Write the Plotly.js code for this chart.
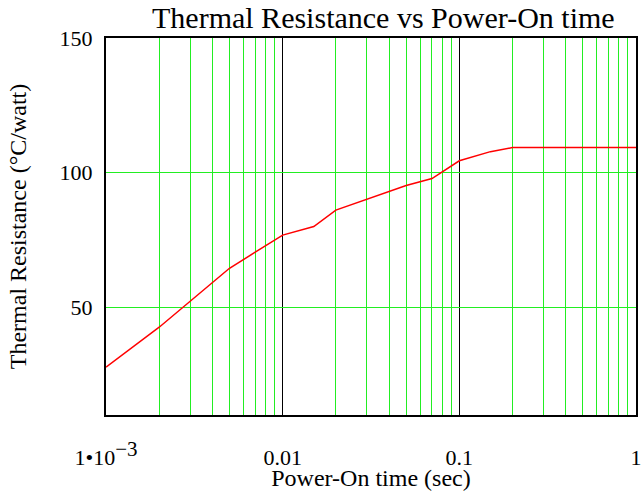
<!DOCTYPE html>
<html>
<head>
<meta charset="utf-8">
<script src="https://cdn.plot.ly/plotly-3.0.1.min.js"></script>
<style>html,body{margin:0;padding:0;background:#fff;}#chart{width:641px;height:491px;}</style>
</head>
<body>
<div id="chart"></div>
<script>
// Data
const timeSec = [0.001, 0.002, 0.005, 0.01, 0.015, 0.02, 0.05, 0.07, 0.1, 0.15, 0.2, 1];
const thermalRes = [27.8, 42.6, 64.5, 76.8, 80.0, 86.1, 95.2, 97.8, 104.4, 107.8, 109.3, 109.3];
const xTickVals = [0.001, 0.01, 0.1, 1];
const xTickText = ["1\u202210<sup><span style=\"font-size:21px\">\u22123</span></sup>", "0.01", "0.1", "1"];
const yTickVals = [50, 100, 150];

const serif = "Liberation Serif";
const green = "#22ee22";

const trace = {
  x: timeSec,
  y: thermalRes,
  type: "scatter",
  mode: "lines",
  line: {color: "#ff0000", width: 1.5},
  hoverinfo: "skip"
};

const layout = {
  width: 641,
  height: 491,
  margin: {l: 106, r: 5, t: 38, b: 76, pad: 0},
  paper_bgcolor: "#ffffff",
  plot_bgcolor: "#ffffff",
  showlegend: false,
  font: {family: serif, color: "#000000"},
  title: {
    text: "Thermal Resistance vs Power-On time",
    font: {family: serif, size: 30, color: "#000000"},
    xref: "container", x: 0.598, xanchor: "center",
    yref: "container", y: 0.965, yanchor: "middle"
  },
  xaxis: {
    type: "log",
    range: [-3, 0],
    tickmode: "array",
    tickvals: xTickVals,
    ticktext: xTickText,
    ticks: "",
    ticklabelstandoff: 22,
    ticklabeloverflow: "allow",
    tickfont: {family: serif, size: 22, color: "#000000"},
    showgrid: true,
    gridcolor: "#000000",
    gridwidth: 1.5,
    minor: {dtick: "D1", showgrid: true, gridcolor: green, gridwidth: 1, ticks: ""},
    showline: true, mirror: true, linecolor: "#000000", linewidth: 2,
    zeroline: false,
    title: {text: "Power-On time (sec)", font: {family: serif, size: 24, color: "#000000"}, standoff: 0}
  },
  yaxis: {
    range: [10, 150],
    tickmode: "array",
    tickvals: yTickVals,
    ticks: "",
    ticklabelstandoff: 7,
    tickfont: {family: serif, size: 22, color: "#000000"},
    showgrid: true,
    gridcolor: green,
    gridwidth: 1,
    showline: true, mirror: true, linecolor: "#000000", linewidth: 2,
    zeroline: false,
    title: {text: "Thermal Resistance (\u00B0C/watt)", font: {family: serif, size: 24, color: "#000000"}, standoff: 26}
  }
};

Plotly.newPlot("chart", [trace], layout, {staticPlot: true, displayModeBar: false});
</script>
</body>
</html>
